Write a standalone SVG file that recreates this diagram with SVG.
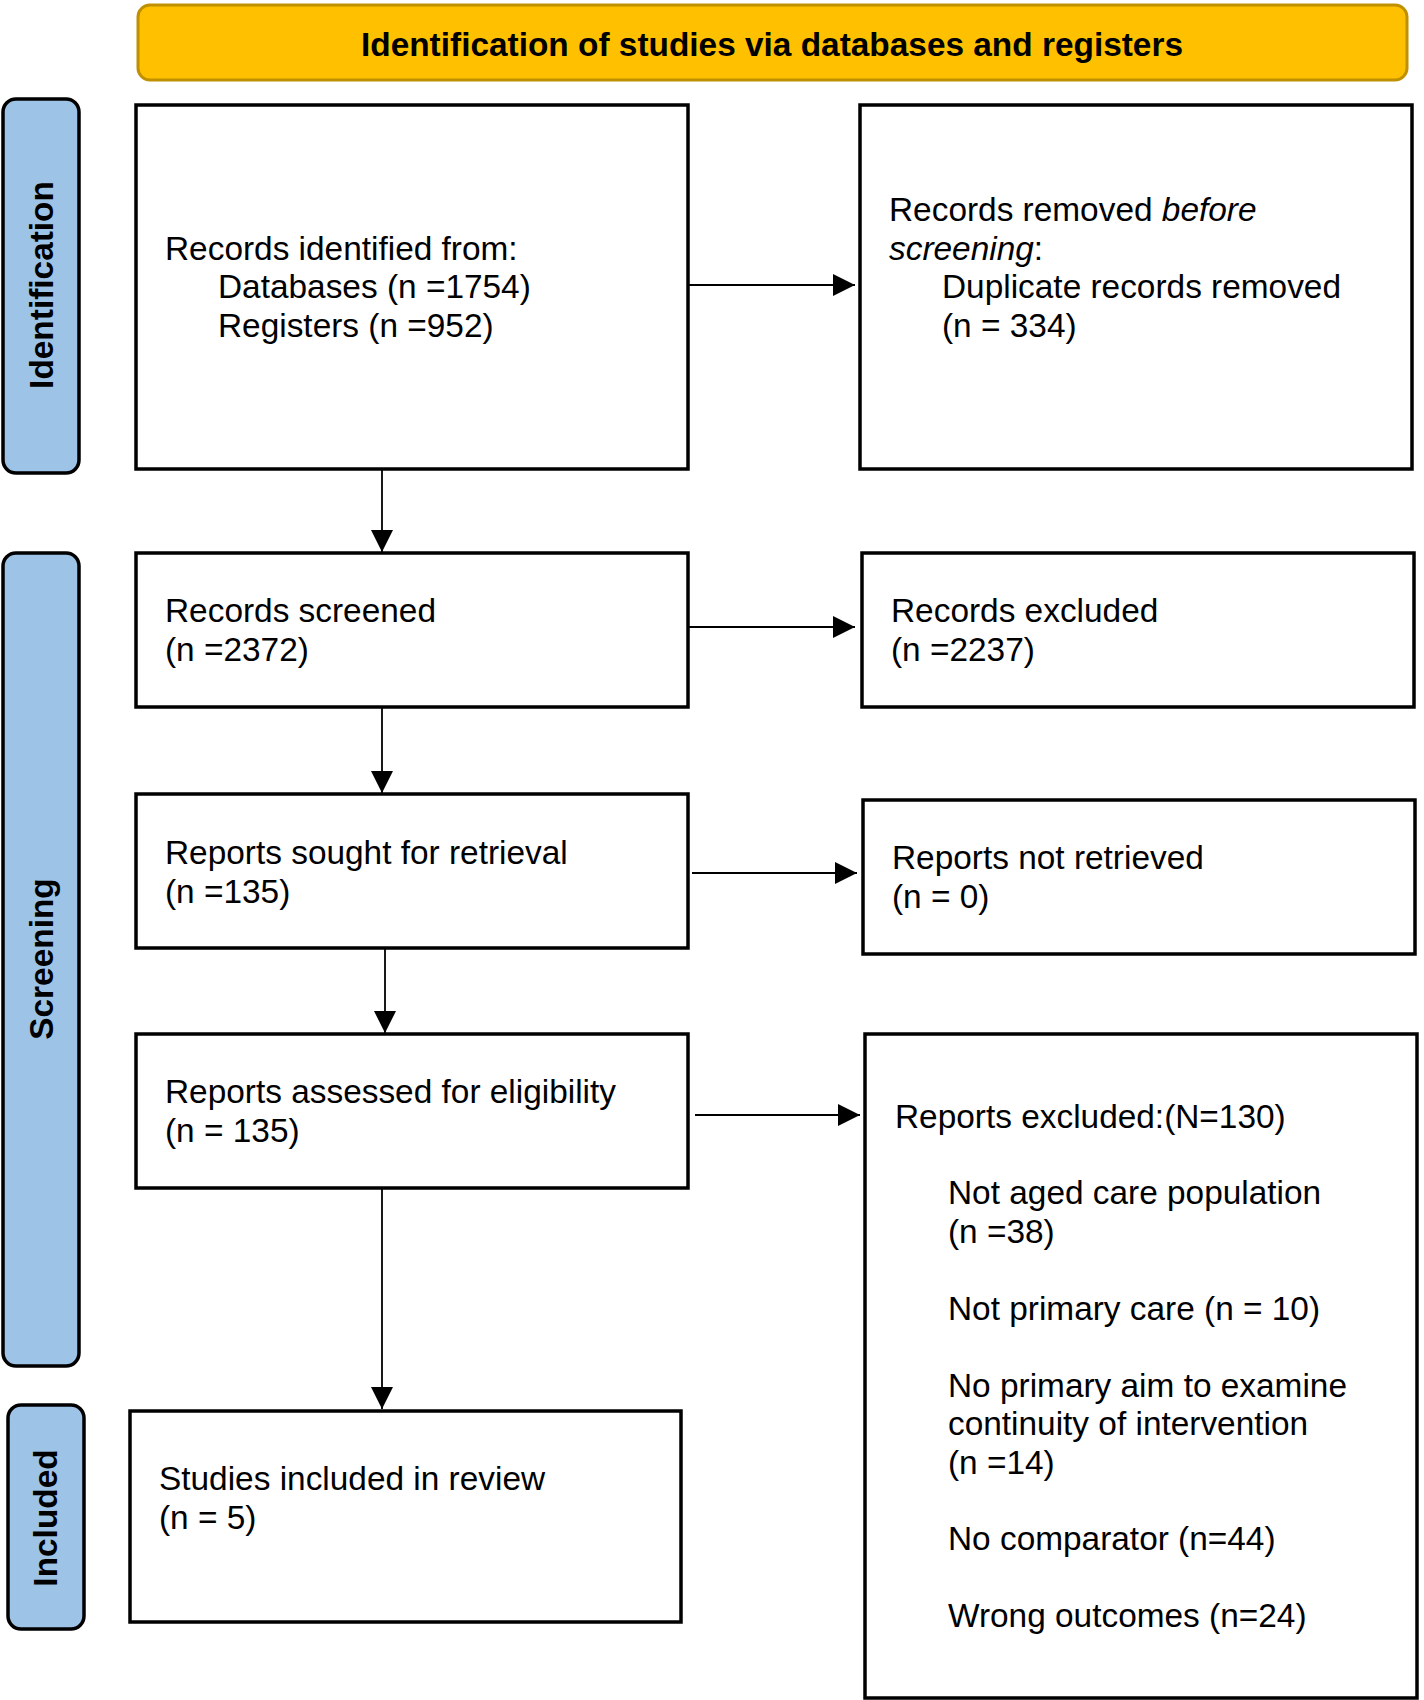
<svg xmlns="http://www.w3.org/2000/svg" width="1424" height="1700" viewBox="0 0 1424 1700">
<defs>
<marker id="ah" markerWidth="22" markerHeight="22" refX="22" refY="11" orient="auto" markerUnits="userSpaceOnUse">
<path d="M0,0 L22,11 L0,22 Z" fill="#000"/>
</marker>
<style>
.box{fill:#fff;stroke:#000;stroke-width:3.5}
.phase{fill:#9DC3E6;stroke:#000;stroke-width:3.5}
.hdr{fill:#FFC000;stroke:#BF9000;stroke-width:3}
.t{font-family:"Liberation Sans",Arial,sans-serif;font-size:33.4px;fill:#000}
.b{font-family:"Liberation Sans",Arial,sans-serif;font-size:33.4px;font-weight:bold;fill:#000}
.c{fill:none;stroke:#000;stroke-width:1.8}
</style>
</defs>
<rect width="1424" height="1700" fill="#fff"/>
<g id="header">
<rect class="hdr" x="138" y="5" width="1269" height="75" rx="12"/>
<text class="b" x="772" y="56" text-anchor="middle">Identification of studies via databases and registers</text>
</g>
<g id="phase-identification">
<rect class="phase" x="3" y="99" width="76" height="374" rx="13"/>
<text class="b" transform="translate(53,285) rotate(-90)" text-anchor="middle">Identification</text>
</g>
<g id="phase-screening">
<rect class="phase" x="3" y="553" width="76" height="813" rx="13"/>
<text class="b" transform="translate(53,959) rotate(-90)" text-anchor="middle">Screening</text>
</g>
<g id="phase-included">
<rect class="phase" x="8" y="1405" width="76" height="224" rx="13"/>
<text class="b" transform="translate(57,1518) rotate(-90)" text-anchor="middle">Included</text>
</g>
<g id="records-identified">
<rect class="box" x="136" y="105" width="552" height="364"/>
<text class="t" x="165" y="260">Records identified from:</text>
<text class="t" x="218" y="298">Databases (n =1754)</text>
<text class="t" x="218" y="337">Registers (n =952)</text>
</g>
<g id="records-removed">
<rect class="box" x="860" y="105" width="552" height="364"/>
<text class="t" x="889" y="221">Records removed <tspan font-style="italic">before</tspan></text>
<text class="t" x="889" y="260"><tspan font-style="italic">screening</tspan>:</text>
<text class="t" x="942" y="298">Duplicate records removed</text>
<text class="t" x="942" y="337">(n = 334)</text>
</g>
<g id="records-screened">
<rect class="box" x="136" y="553" width="552" height="154"/>
<text class="t" x="165" y="622">Records screened</text>
<text class="t" x="165" y="661">(n =2372)</text>
</g>
<g id="records-excluded">
<rect class="box" x="862" y="553" width="552" height="154"/>
<text class="t" x="891" y="622">Records excluded</text>
<text class="t" x="891" y="661">(n =2237)</text>
</g>
<g id="reports-sought">
<rect class="box" x="136" y="794" width="552" height="154"/>
<text class="t" x="165" y="864">Reports sought for retrieval</text>
<text class="t" x="165" y="903">(n =135)</text>
</g>
<g id="reports-not-retrieved">
<rect class="box" x="863" y="800" width="552" height="154"/>
<text class="t" x="892" y="869">Reports not retrieved</text>
<text class="t" x="892" y="908">(n = 0)</text>
</g>
<g id="reports-assessed">
<rect class="box" x="136" y="1034" width="552" height="154"/>
<text class="t" x="165" y="1103">Reports assessed for eligibility</text>
<text class="t" x="165" y="1142">(n = 135)</text>
</g>
<g id="reports-excluded">
<rect class="box" x="865" y="1034" width="552" height="664"/>
<text class="t" x="895" y="1128">Reports excluded:(N=130)</text>
<text class="t" x="948" y="1204">Not aged care population</text>
<text class="t" x="948" y="1243">(n =38)</text>
<text class="t" x="948" y="1320">Not primary care (n = 10)</text>
<text class="t" x="948" y="1397">No primary aim to examine</text>
<text class="t" x="948" y="1435">continuity of intervention</text>
<text class="t" x="948" y="1474">(n =14)</text>
<text class="t" x="948" y="1550">No comparator (n=44)</text>
<text class="t" x="948" y="1627">Wrong outcomes (n=24)</text>
</g>
<g id="studies-included">
<rect class="box" x="130" y="1411" width="551" height="211"/>
<text class="t" x="159" y="1490">Studies included in review</text>
<text class="t" x="159" y="1529">(n = 5)</text>
</g>
<g id="connectors">
<line class="c" x1="688" y1="285" x2="855" y2="285" marker-end="url(#ah)"/>
<line class="c" x1="382" y1="469" x2="382" y2="552" marker-end="url(#ah)"/>
<line class="c" x1="688" y1="627" x2="855" y2="627" marker-end="url(#ah)"/>
<line class="c" x1="382" y1="707" x2="382" y2="793" marker-end="url(#ah)"/>
<line class="c" x1="692" y1="873" x2="857" y2="873" marker-end="url(#ah)"/>
<line class="c" x1="385" y1="948" x2="385" y2="1033" marker-end="url(#ah)"/>
<line class="c" x1="695" y1="1115" x2="860" y2="1115" marker-end="url(#ah)"/>
<line class="c" x1="382" y1="1188" x2="382" y2="1409" marker-end="url(#ah)"/>
</g>
</svg>
